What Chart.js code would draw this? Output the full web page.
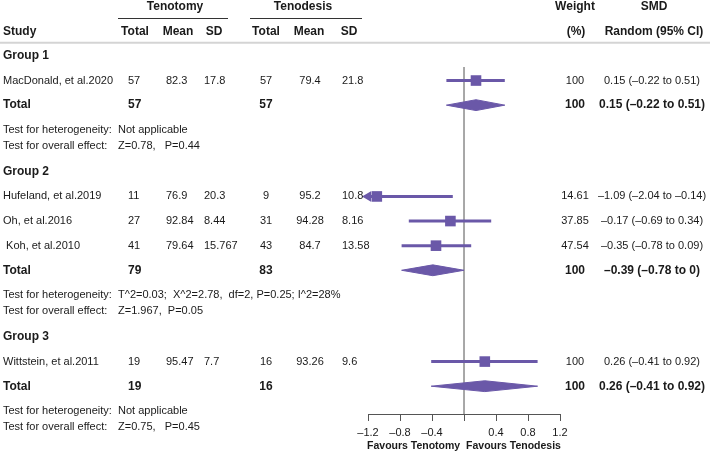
<!DOCTYPE html>
<html>
<head>
<meta charset="utf-8">
<script src="https://cdn.jsdelivr.net/npm/chart.js@4.4.1/dist/chart.umd.min.js"></script>
<style>
  html, body { margin: 0; padding: 0; background: #fff; }
  canvas { display: block; }
</style>
</head>
<body>
<canvas id="forest" width="710" height="454"></canvas>
<script>
// --- data ---
const groupNames = ['Group 1', 'Group 2', 'Group 3'];
const studyNames = ['MacDonald, et al.2020', 'Hufeland, et al.2019', 'Oh, et al.2016', ' Koh, et al.2010', 'Wittstein, et al.2011'];
const studyGroup = [0, 1, 1, 1, 2];

const tenotomyTotal = ['57', '11', '27', '41', '19'];
const tenotomyMean = ['82.3', '76.9', '92.84', '79.64', '95.47'];
const tenotomySD = ['17.8', '20.3', '8.44', '15.767', '7.7'];
const tenodesisTotal = ['57', '9', '31', '43', '16'];
const tenodesisMean = ['79.4', '95.2', '94.28', '84.7', '93.26'];
const tenodesisSD = ['21.8', '10.8', '8.16', '13.58', '9.6'];

const studyWeight = ['100', '14.61', '37.85', '47.54', '100'];
const studySmd = [0.15, -1.09, -0.17, -0.35, 0.26];
const studyLow = [-0.22, -2.04, -0.69, -0.78, -0.41];
const studyHigh = [0.51, -0.14, 0.34, 0.09, 0.92];

const groupTenotomyTotal = ['57', '79', '19'];
const groupTenodesisTotal = ['57', '83', '16'];
const groupWeight = ['100', '100', '100'];
const groupSmd = [0.15, -0.39, 0.26];
const groupLow = [-0.22, -0.78, -0.41];
const groupHigh = [0.51, 0, 0.92];
const groupHeterogeneity = ['Not applicable', 'T^2=0.03;  X^2=2.78,  df=2, P=0.25; I^2=28%', 'Not applicable'];
const groupOverall = ['Z=0.78,   P=0.44', 'Z=1.967,  P=0.05', 'Z=0.75,   P=0.45'];

const xTicks = [-1.2, -0.8, -0.4, 0, 0.4, 0.8, 1.2];
const favoursLabel = 'Favours Tenotomy  Favours Tenodesis';

// --- look ---
const FONT = '"Liberation Sans", Arial, Helvetica, sans-serif';
const INK = '#1a1a1a';
const PURPLE = '#6a58a8';
const AXIS = '#555555';
const ZERO = '#9c9c9c';
Chart.defaults.font.family = FONT;

const dash = s => String(s).replace(/-/g, '\u2013');
const ciText = (m, lo, hi) => `${dash(m)} (${dash(lo)} to ${dash(hi)})`;

// 1. Row layout (row units, one table line = 1)
const rows = [];
let yRow = 0;
groupNames.forEach((g, gi) => {
  rows.push({ kind: 'group', gi, y: yRow }); yRow += 1;
  studyNames.forEach((s, si) => {
    if (studyGroup[si] === gi) { rows.push({ kind: 'study', si, y: yRow }); yRow += 1; }
  });
  rows.push({ kind: 'total', gi, y: yRow }); yRow += 1;
  rows.push({ kind: 'het', gi, y: yRow }); yRow += 0.66;
  rows.push({ kind: 'overall', gi, y: yRow }); yRow += 1.05;
});
const rowOf = (kind, key, idx) => rows.find(r => r.kind === kind && r[key] === idx).y;

const Y_MIN = 0.45, Y_MAX = 14.55;
const X_MIN = xTicks[0], X_MAX = xTicks[xTicks.length - 1];
const DIAMOND_H = 0.22;

// 2. Datasets
const datasets = [];
datasets.push({
  data: [{ x: 0, y: Y_MIN }, { x: 0, y: Y_MAX }],
  showLine: true, borderColor: ZERO, borderWidth: 1, pointRadius: 0, order: 10
});
studyNames.forEach((s, si) => {
  const y = rowOf('study', 'si', si);
  datasets.push({
    data: [{ x: Math.max(studyLow[si], X_MIN), y }, { x: Math.min(studyHigh[si], X_MAX), y }],
    showLine: true, borderColor: PURPLE, borderWidth: 3, pointRadius: 0, order: 2
  });
});
datasets.push({
  data: studySmd.map((v, si) => ({ x: v, y: rowOf('study', 'si', si) })),
  pointStyle: 'rect', pointRadius: 7.5, backgroundColor: PURPLE, borderColor: PURPLE, borderWidth: 0, order: 0
});
datasets.push({
  data: studyLow.map((v, si) => v < X_MIN ? { x: X_MIN, y: rowOf('study', 'si', si) } : null).filter(Boolean),
  pointStyle: 'triangle', rotation: -90, pointRadius: 6, backgroundColor: PURPLE, borderColor: PURPLE, borderWidth: 0,
  clip: false, order: 0
});
groupNames.forEach((g, gi) => {
  const y = rowOf('total', 'gi', gi);
  datasets.push({
    data: [
      { x: groupLow[gi], y }, { x: groupSmd[gi], y: y - DIAMOND_H },
      { x: groupHigh[gi], y }, { x: groupSmd[gi], y: y + DIAMOND_H }, { x: groupLow[gi], y }
    ],
    showLine: true, fill: 'shape', tension: 0, borderColor: PURPLE, backgroundColor: PURPLE,
    borderWidth: 1, pointRadius: 0, order: 1
  });
});

// 3. Table text drawn around the plot
const tablePlugin = {
  id: 'forestTable',
  afterDraw(chart) {
    const ctx = chart.ctx;
    const py = v => chart.scales.y.getPixelForValue(v);
    const reg = '11px ' + FONT, bold = 'bold 12px ' + FONT;
    const put = (s, x, row, align, font) => {
      ctx.font = font; ctx.textAlign = align; ctx.fillText(s, x, py(row));
    };
    ctx.save();
    ctx.textBaseline = 'middle';
    ctx.fillStyle = INK;

    // headers
    put('Tenotomy', 175, -2, 'center', bold);
    put('Tenodesis', 303, -2, 'center', bold);
    put('Weight', 575, -2, 'center', bold);
    put('SMD', 654, -2, 'center', bold);
    put('Study', 3, -1, 'left', bold);
    put('Total', 135, -1, 'center', bold);
    put('Mean', 178, -1, 'center', bold);
    put('SD', 214, -1, 'center', bold);
    put('Total', 266, -1, 'center', bold);
    put('Mean', 309, -1, 'center', bold);
    put('SD', 349, -1, 'center', bold);
    put('(%)', 576, -1, 'center', bold);
    put('Random (95% CI)', 654, -1, 'center', bold);

    ctx.strokeStyle = '#333'; ctx.lineWidth = 1;
    ctx.beginPath();
    ctx.moveTo(118, Math.round(py(-1.55)) + 0.5); ctx.lineTo(228, Math.round(py(-1.55)) + 0.5);
    ctx.moveTo(250, Math.round(py(-1.55)) + 0.5); ctx.lineTo(362, Math.round(py(-1.55)) + 0.5);
    ctx.stroke();
    ctx.strokeStyle = '#d4d4d4'; ctx.lineWidth = 2;
    ctx.beginPath();
    ctx.moveTo(0, py(-0.54)); ctx.lineTo(710, py(-0.54));
    ctx.stroke();

    rows.forEach(r => {
      if (r.kind === 'group') {
        put(groupNames[r.gi], 3, r.y, 'left', bold);
      } else if (r.kind === 'study') {
        const i = r.si;
        put(studyNames[i], 3, r.y, 'left', reg);
        put(tenotomyTotal[i], 128, r.y, 'left', reg);
        put(tenotomyMean[i], 166, r.y, 'left', reg);
        put(tenotomySD[i], 204, r.y, 'left', reg);
        put(tenodesisTotal[i], 266, r.y, 'center', reg);
        put(tenodesisMean[i], 310, r.y, 'center', reg);
        put(tenodesisSD[i], 342, r.y, 'left', reg);
        put(studyWeight[i], 575, r.y, 'center', reg);
        put(ciText(studySmd[i], studyLow[i], studyHigh[i]), 652, r.y, 'center', reg);
      } else if (r.kind === 'total') {
        const i = r.gi;
        put('Total', 3, r.y, 'left', bold);
        put(groupTenotomyTotal[i], 128, r.y, 'left', bold);
        put(groupTenodesisTotal[i], 266, r.y, 'center', bold);
        put(groupWeight[i], 575, r.y, 'center', bold);
        put(ciText(groupSmd[i], groupLow[i], groupHigh[i]), 652, r.y, 'center', bold);
      } else if (r.kind === 'het') {
        put('Test for heterogeneity:', 3, r.y, 'left', reg);
        put(groupHeterogeneity[r.gi], 118, r.y, 'left', reg);
      } else {
        put('Test for overall effect:', 3, r.y, 'left', reg);
        put(groupOverall[r.gi], 118, r.y, 'left', reg);
      }
    });

    // axis caption under the tick labels
    const xs = chart.scales.x;
    ctx.font = 'bold 10.5px ' + FONT;
    ctx.textAlign = 'center';
    ctx.fillText(favoursLabel, xs.getPixelForValue(0), chart.chartArea.bottom + 32);
    ctx.restore();
  }
};

// 4. Chart
new Chart(document.getElementById('forest'), {
  type: 'scatter',
  data: { datasets },
  options: {
    responsive: false,
    animation: false,
    layout: { padding: { left: 368, right: 150, top: 67, bottom: 0 } },
    plugins: { legend: { display: false }, tooltip: { enabled: false } },
    scales: {
      x: {
        type: 'linear', min: X_MIN, max: X_MAX,
        afterBuildTicks: s => { s.ticks = xTicks.map(v => ({ value: v })); },
        afterFit: s => { s.height = 40; },
        ticks: {
          callback: v => v === 0 ? '' : dash(v.toFixed(1)),
          font: { size: 11 }, color: INK, padding: 5, maxRotation: 0, autoSkip: false
        },
        grid: { drawOnChartArea: false, drawTicks: true, tickLength: 7, color: AXIS, lineWidth: 1 },
        border: { display: true, color: AXIS, width: 1 }
      },
      y: { type: 'linear', reverse: true, min: Y_MIN, max: Y_MAX, display: false }
    }
  },
  plugins: [tablePlugin]
});
</script>
</body>
</html>
